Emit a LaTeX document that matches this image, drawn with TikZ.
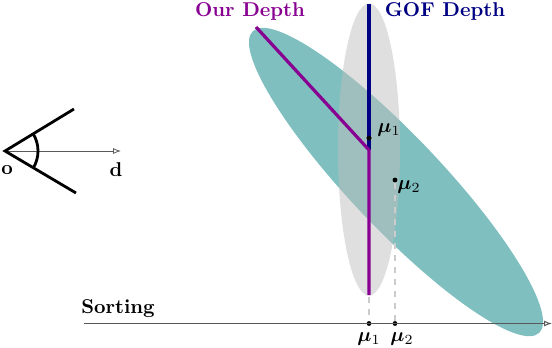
\documentclass[tikz,border=0pt]{standalone}
\usepackage{amsmath,bm}
\usetikzlibrary{arrows.meta,calc}
\definecolor{ourpurple}{RGB}{135,0,145}
\definecolor{gofblue}{RGB}{0,0,130}
\begin{document}
\begin{tikzpicture}[x=0.5pt,y=-0.5pt,
  eyeline/.style={line width=1.4pt,black},
  depthline/.style={line width=1.6pt},
  proj/.style={dashed,gray!40,line width=0.7pt},
  axisline/.style={gray!70!black,line width=0.5pt,-{Latex[open,length=4pt,width=3pt]}},
  pt/.style={circle,fill=black,inner sep=0pt,minimum size=2.4pt},
  lbl/.style={inner sep=1pt}]
\useasboundingbox (0,0) rectangle (552,348);
% ellipses
\fill[teal,opacity=0.5,rotate around={-46.5:(396,182)}] (396,182) ellipse [x radius=208,y radius=46];
\fill[gray!50,opacity=0.5] (369,149.5) ellipse [x radius=31,y radius=146];
% coordinates
\coordinate (O) at (5,151);
\coordinate (E1) at (74,109);
\coordinate (E2) at (76,193);
\coordinate (D) at (121,151);
\coordinate (J) at (369,150);
\coordinate (P0) at (256,27);
\coordinate (Pend) at (369,295);
\coordinate (B0) at (369,4);
\coordinate (A0) at (84,323.5);
\coordinate (A1) at (552,323.5);
\node[pt] (m1) at (369,138) {};
\node[pt] (m2) at (395,180) {};
\node[pt] (a1) at (369,323.5) {};
\node[pt] (a2) at (395,323.5) {};
% projections
\draw[proj] (m1) -- (a1);
\draw[proj] (m2) -- (a2);
% depth lines
\draw[depthline,gofblue] (B0) -- (J);
\draw[depthline,ourpurple] (P0) -- (J) -- (Pend);
\node[pt] at (m1) {};
% labels
\node[lbl,anchor=west] (lm1) at (375,130) {$\bm{\mu}_1$};
\node[lbl,anchor=west] (lm2) at (395,187) {$\bm{\mu}_2$};
\node[lbl,text=ourpurple,font=\bfseries] (our) at (250,11) {Our Depth};
\node[lbl,text=gofblue,font=\bfseries] (gof) at (445,11) {GOF Depth};
% axis
\draw[axisline] (A0) -- (A1);
\node[lbl,font=\bfseries] (sort) at (118,309) {Sorting};
\node[lbl] (la1) at (369,339) {$\bm{\mu}_1$};
\node[lbl] (la2) at (402,339) {$\bm{\mu}_2$};
% eye
\draw[gray!70!black,line width=0.4pt,-{Latex[open,length=4pt,width=3pt]}] (O) -- (D);
\draw[eyeline] (E1) -- (O) -- (E2);
\draw[eyeline] ($(O)+(-31:33)$) arc[start angle=-31,end angle=31,radius=33];
\node[lbl] (lo) at (7,170) {$\mathbf{o}$};
\node[lbl] (ld) at (116,170) {$\mathbf{d}$};
\end{tikzpicture}
\end{document}
